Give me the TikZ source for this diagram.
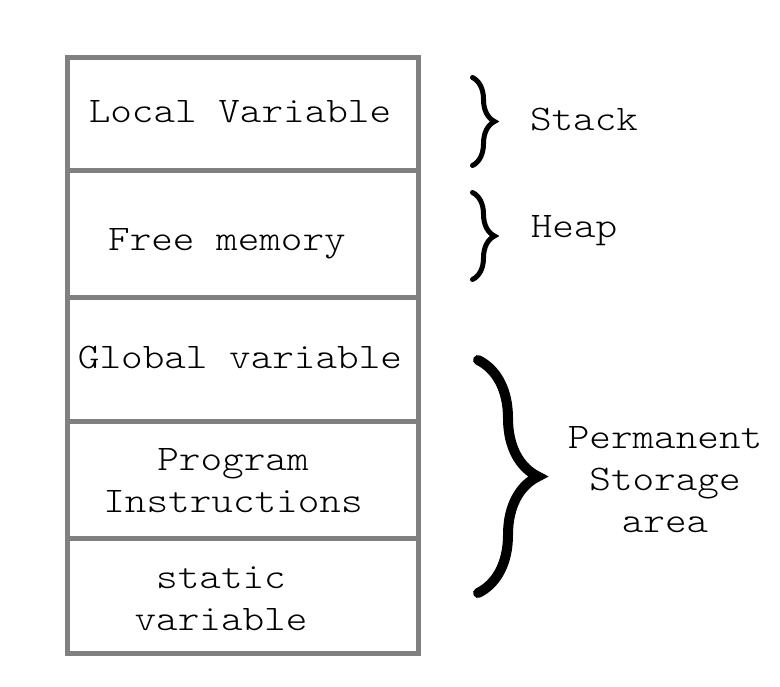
\documentclass[tikz,border=0pt]{standalone}
\usepackage{fontspec}
\setmonofont{Latin Modern Mono Light}[FakeStretch=1.143]
\usetikzlibrary{decorations.pathreplacing}
\tikzset{memtext/.style = {font=\ttfamily\fontsize{18}{21}\selectfont, align=center, inner sep=0pt}}
\tikzset{smallbrace/.style = {decorate, decoration={brace, amplitude=11pt}, line width=2.5pt, line cap=round}}
\tikzset{bigbrace/.style = {decorate, decoration={brace, amplitude=30pt}, line width=5pt, line cap=round}}

\begin{document}
\begin{tikzpicture}[x=0.5pt, y=-0.5pt]
\useasboundingbox (0,0) rectangle (780,686);
% memory block
\draw [gray, line width = 2.5pt] (67,57) rectangle (418,653);
\foreach \y in {170,297,421,538}
\draw [gray, line width = 2.5pt] (67,\y) -- (418,\y);
% cell texts
\node (local) at (240,122) [memtext, anchor = base] {Local Variable};
\node (free) at (227,250) [memtext, anchor = base] {Free memory};
\node (global) at (240,368) [memtext, anchor = base] {Global variable};
\node (program) at (233,512) [memtext, anchor = base] {Program\\Instructions};
\node (static) at (221,630) [memtext, anchor = base] {static\\variable};
% braces
\draw [smallbrace] (472.5,77.5) -- (472.5,165.5);
\draw [smallbrace] (472.5,192.5) -- (472.5,279.5);
\draw [bigbrace] (478,360) -- (478,593);
\node (stack) at (584,130) [memtext, anchor = base] {Stack};
\node (heap) at (574,237) [memtext, anchor = base] {Heap};
\node (perm) at (665,532) [memtext, anchor = base] {Permanent\\Storage\\area};
\end{tikzpicture}
\end{document}
